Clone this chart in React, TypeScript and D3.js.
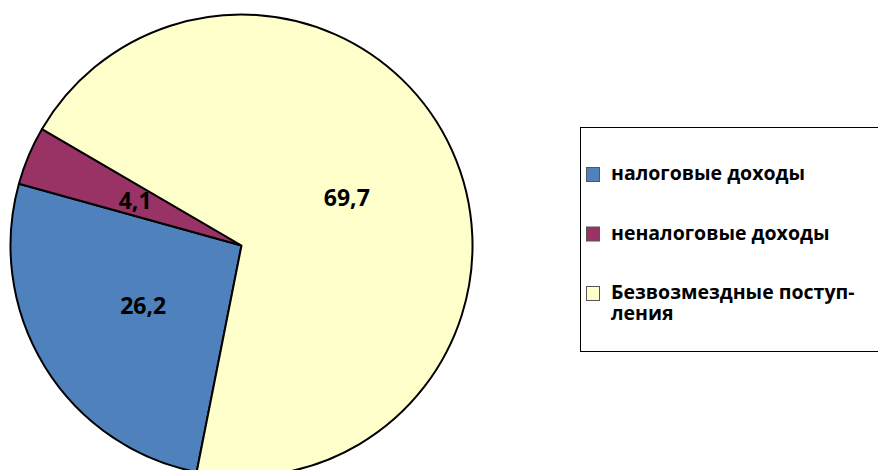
import * as d3 from 'd3';
import React, { useEffect, useRef } from 'react';

// revenue structure, %
const categories = ['налоговые доходы', 'неналоговые доходы', 'Безвозмездные поступления'];
const values = [26.2, 4.1, 69.7];
const valueLabels = ['26,2', '4,1', '69,7'];
const legendLines = [['налоговые доходы'], ['неналоговые доходы'], ['Безвозмездные поступ-', 'ления']];
const colors = ['#4F81BD', '#993366', '#FFFFCC'];

export default function App() {
  const ref = useRef<SVGSVGElement>(null);

  const width = 878;
  const height = 470;
  const cx = 241.5;
  const cy = 245.5;
  const radius = 231;
  const startDeg = 191.2;

  useEffect(() => {
    const svg = d3.select(ref.current);
    svg.selectAll('*').remove();

    const pie = d3.pie<number>()
      .sort(null)
      .value(d => d)
      .startAngle((startDeg * Math.PI) / 180)
      .endAngle((startDeg * Math.PI) / 180 + 2 * Math.PI);

    const arcs = pie(values);

    const arc = d3.arc<d3.PieArcDatum<number>>()
      .innerRadius(0)
      .outerRadius(radius);

    const labelArc = d3.arc<d3.PieArcDatum<number>>()
      .innerRadius(radius * 0.5)
      .outerRadius(radius * 0.5);

    const g = svg.append('g').attr('transform', `translate(${cx},${cy})`);

    g.selectAll('path.slice')
      .data(arcs)
      .enter()
      .append('path')
      .attr('class', 'slice')
      .attr('d', arc)
      .attr('fill', (d, i) => colors[i])
      .attr('stroke', '#000')
      .attr('stroke-width', 2)
      .attr('stroke-linejoin', 'round');

    g.selectAll('text.val')
      .data(arcs)
      .enter()
      .append('text')
      .attr('class', 'val')
      .attr('x', d => labelArc.centroid(d)[0])
      .attr('y', d => labelArc.centroid(d)[1])
      .attr('dy', '0.36em')
      .attr('text-anchor', 'middle')
      .style('font-family', '"Open Sans", sans-serif')
      .style('font-weight', 'bold')
      .style('font-size', '23px')
      .attr('fill', '#000')
      .text((d, i) => valueLabels[i]);

    // legend
    const legend = svg.append('g');
    legend.append('rect')
      .attr('x', 580.5)
      .attr('y', 127.5)
      .attr('width', 320)
      .attr('height', 224)
      .attr('fill', '#fff')
      .attr('stroke', '#000')
      .attr('stroke-width', 1);

    const rowY = d3.scalePoint<number>()
      .domain(d3.range(categories.length))
      .range([180, 299]);

    const items = legend.selectAll('g.item')
      .data(categories)
      .enter()
      .append('g')
      .attr('class', 'item')
      .attr('transform', (d, i) => `translate(0,${rowY(i)})`);

    items.append('rect')
      .attr('x', 586.5)
      .attr('y', -12.5)
      .attr('width', 13)
      .attr('height', 14)
      .attr('fill', (d, i) => colors[i])
      .attr('stroke', '#555')
      .attr('stroke-width', 1);

    items.each(function (d, i) {
      const t = d3.select(this).append('text')
        .attr('x', 611)
        .attr('y', 0)
        .style('font-family', '"Open Sans", sans-serif')
        .style('font-weight', 'bold')
        .style('font-size', '19.5px')
        .attr('fill', '#000');
      legendLines[i].forEach((line, j) => {
        t.append('tspan')
          .attr('x', 611)
          .attr('dy', j === 0 ? 0 : 21)
          .text(line);
      });
    });
  }, []);

  return (
    <svg
      ref={ref}
      width={width}
      height={height}
      style={{ position: 'absolute', left: 0, top: 0, background: '#fff' }}
    />
  );
}
